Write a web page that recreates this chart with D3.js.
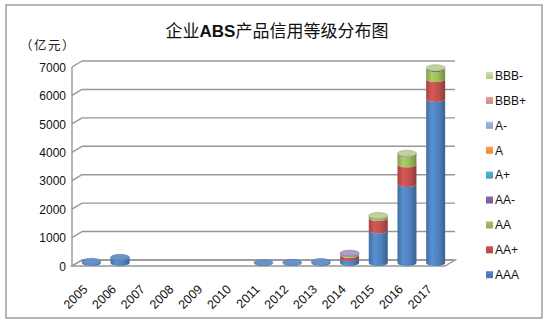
<!DOCTYPE html>
<html>
<head>
<meta charset="utf-8">
<script src="https://cdn.jsdelivr.net/npm/d3@7"></script>
<style>
  body { margin: 0; background: #fff; }
  svg { display: block; }
</style>
</head>
<body>
<svg id="chart" width="550" height="325"></svg>
<script>
// Issue years and credit ratings (stacked bottom to top)
const years = ["2005","2006","2007","2008","2009","2010","2011","2012","2013","2014","2015","2016","2017"];
const ratings = ["AAA","AA+","AA","AA-","A+","A","A-","BBB+","BBB-"];
const ratingColors = ["#4F81BD","#C0504D","#9BBB59","#8064A2","#4BACC6","#F79646","#95B3D7","#D99694","#C3D69B"];

// Issuance amounts by rating, 亿元
const valAAA  = [60, 200, 0, 0, 0, 0, 13, 20, 50, 180, 1150, 2780, 5770];
const valAAp  = [0, 0, 0, 0, 0, 0, 0, 0, 0, 110, 430, 690, 700];
const valAA   = [0, 0, 0, 0, 0, 0, 0, 0, 0, 35, 55, 350, 350];
const valAAm  = [0, 0, 0, 0, 0, 0, 0, 0, 0, 15, 25, 30, 40];
const valAp   = [0, 0, 0, 0, 0, 0, 0, 0, 0, 5, 5, 5, 5];
const valA    = [0, 0, 0, 0, 0, 0, 0, 0, 0, 0, 3, 3, 3];
const valAm   = [0, 0, 0, 0, 0, 0, 0, 0, 0, 0, 0, 0, 0];
const valBBBp = [0, 0, 0, 0, 0, 0, 0, 0, 0, 0, 2, 0, 0];
const valBBBm = [0, 0, 0, 0, 0, 0, 0, 0, 0, 0, 0, 0, 0];

const yTicks = [0, 1000, 2000, 3000, 4000, 5000, 6000, 7000];

const seriesValues = [valAAA, valAAp, valAA, valAAm, valAp, valA, valAm, valBBBp, valBBBm];
const rows = years.map((yr, i) => {
  const r = { year: yr };
  ratings.forEach((k, j) => { r[k] = seriesValues[j][i]; });
  return r;
});
const stacked = d3.stack().keys(ratings)(rows);

const svg = d3.select("#chart");
const font = "'Liberation Sans', Arial, sans-serif";

// outer frame
svg.append("rect")
  .attr("x", 6).attr("y", 5).attr("width", 536).attr("height", 313)
  .attr("fill", "#fff").attr("stroke", "#a0a0a0").attr("stroke-width", 1.5);

// title and unit
const title = svg.append("text")
  .attr("x", 277).attr("y", 37).attr("text-anchor", "middle")
  .attr("font-family", "'Noto Sans CJK SC', sans-serif").attr("font-size", 17).attr("fill", "#111");
title.append("tspan").text("企业");
title.append("tspan").attr("font-family", font).attr("font-weight", "bold").text("ABS");
title.append("tspan").text("产品信用等级分布图");

svg.append("text")
  .attr("x", 20).attr("y", 50)
  .attr("font-family", "'Noto Sans CJK SC', sans-serif").attr("font-size", 12.5)
  .attr("letter-spacing", 1.5).attr("fill", "#222")
  .text("（亿元）");

// 3D frame geometry: front plane scales plus a depth offset for the back wall
const depthX = 10, depthY = -6;
const x = d3.scaleBand().domain(years).range([72, 445]);
const y = d3.scaleLinear().domain([0, 7000]).range([266, 67]);
const gridColor = "#979797";

const frame = svg.append("g").attr("fill", "none").attr("stroke", gridColor).attr("stroke-width", 1.4);
// back wall gridlines + side-wall diagonals
yTicks.forEach(t => {
  frame.append("line")
    .attr("x1", x.range()[0] + depthX).attr("x2", x.range()[1] + depthX)
    .attr("y1", y(t) + depthY).attr("y2", y(t) + depthY);
  frame.append("line")
    .attr("x1", x.range()[0]).attr("x2", x.range()[0] + depthX)
    .attr("y1", y(t)).attr("y2", y(t) + depthY);
});
// left wall front edge
frame.append("line")
  .attr("x1", x.range()[0]).attr("x2", x.range()[0])
  .attr("y1", y(0)).attr("y2", y(7000));
// floor outline
frame.append("path").attr("d", [
  "M", x.range()[0], y(0),
  "L", x.range()[1], y(0),
  "L", x.range()[1] + depthX, y(0) + depthY,
  "L", x.range()[0] + depthX, y(0) + depthY, "Z"].join(" "));

// y axis labels
const yAxis = d3.axisLeft(y).tickValues(yTicks).tickFormat(d3.format("d")).tickSize(0).tickPadding(0);
const gy = svg.append("g").attr("transform", "translate(66,0)").call(yAxis);
gy.select(".domain").remove();
gy.selectAll("text").attr("font-family", font).attr("font-size", 12).attr("fill", "#111").attr("dy", "0.35em");

// x axis labels, rotated
const xAxis = d3.axisBottom(x).tickSize(0).tickPadding(0);
const gx = svg.append("g").attr("transform", "translate(0,290)").call(xAxis);
gx.select(".domain").remove();
gx.selectAll("text")
  .attr("font-family", font).attr("font-size", 12.5).attr("fill", "#111")
  .attr("text-anchor", "end").attr("y", 0).attr("dy", 0).attr("x", 0)
  .attr("transform", "translate(2,0) rotate(-45)");

// cylinder shading gradients
const defs = svg.append("defs");
ratingColors.forEach((c, i) => {
  const g = defs.append("linearGradient").attr("id", "cyl" + i)
    .attr("x1", "0%").attr("x2", "100%").attr("y1", "0%").attr("y2", "0%");
  const base = d3.color(c);
  g.append("stop").attr("offset", "0%").attr("stop-color", base.darker(0.45));
  g.append("stop").attr("offset", "30%").attr("stop-color", base.brighter(0.3));
  g.append("stop").attr("offset", "65%").attr("stop-color", base);
  g.append("stop").attr("offset", "100%").attr("stop-color", base.darker(0.8));
  const lg = defs.append("linearGradient").attr("id", "leg" + i)
    .attr("x1", "0%").attr("x2", "0%").attr("y1", "0%").attr("y2", "100%");
  lg.append("stop").attr("offset", "0%").attr("stop-color", base.brighter(0.15));
  lg.append("stop").attr("offset", "100%").attr("stop-color", base.darker(0.25));
});

// cylinders
const rx = 9.5, ry = 3;
const cxOf = yr => x(yr) + x.bandwidth() / 2 + depthX / 2;
const cyOf = v => y(v) + depthY / 2;

const bars = svg.append("g");
stacked.forEach((layer, li) => {
  layer.forEach(d => {
    const v0 = d[0], v1 = d[1];
    if (v1 - v0 <= 0) return;
    const cx = cxOf(d.data.year), yb = cyOf(v0), yt = cyOf(v1);
    bars.append("path")
      .attr("d", `M${cx - rx},${yt} L${cx - rx},${yb} A${rx},${ry} 0 0 0 ${cx + rx},${yb} L${cx + rx},${yt} A${rx},${ry} 0 0 1 ${cx - rx},${yt} Z`)
      .attr("fill", `url(#cyl${li})`);
  });
});

// top faces: lit tint of the main upper segment
years.forEach((yr, i) => {
  const total = d3.sum(seriesValues, s => s[i]);
  if (total <= 0) return;
  let topIdx = 0;
  seriesValues.forEach((s, j) => { if (s[i] > total * 0.02) topIdx = j; });
  const cx = cxOf(yr), cy = cyOf(total);
  bars.append("ellipse")
    .attr("cx", cx).attr("cy", cy).attr("rx", rx).attr("ry", ry)
    .attr("fill", d3.interpolateRgb(ratingColors[topIdx], "#f4f4f8")(topIdx === 0 ? 0.15 : 0.4))
    .attr("stroke", d3.color(ratingColors[topIdx]).darker(0.3)).attr("stroke-width", 0.5);
});

// legend, highest rating tier listed last
const legendOrder = ratings.map((r, i) => i).reverse();
const legend = svg.append("g");
legendOrder.forEach((idx, row) => {
  const cy = 75.5 + row * 24.9;
  legend.append("rect")
    .attr("x", 486).attr("y", cy - 3.5).attr("width", 7).attr("height", 7)
    .attr("fill", `url(#leg${idx})`);
  legend.append("text")
    .attr("x", 495).attr("y", cy + 4.3)
    .attr("font-family", font).attr("font-size", 12).attr("fill", "#111")
    .text(ratings[idx]);
});
</script>
</body>
</html>
